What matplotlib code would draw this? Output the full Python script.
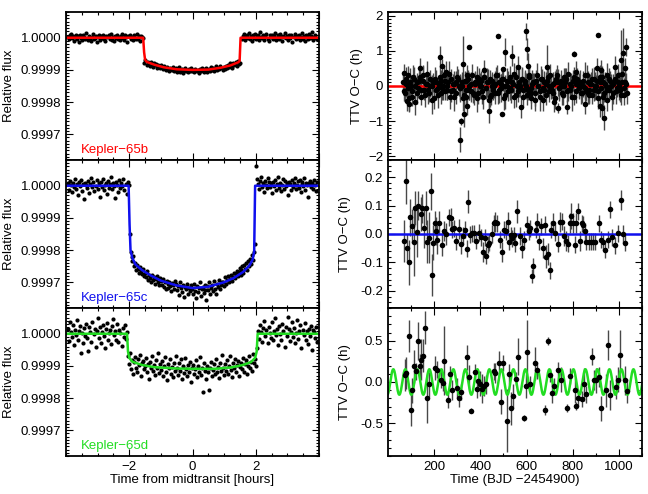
import numpy as np
import matplotlib
matplotlib.use("Agg")
import matplotlib.pyplot as plt
from matplotlib.ticker import MultipleLocator, FixedLocator

plt.rcParams['font.family'] = ['Liberation Sans', 'DejaVu Sans']
plt.rcParams['font.size'] = 9.5
plt.rcParams['axes.unicode_minus'] = True

# ---------------- light curves (flux in ppm below 1) ----------------
# Kepler-65b
b_pre = [3,-5,8,12,-2,6,-9,1,10,-4,4,-12,7,0,-6,9,2,-3,14,-8,5,-1,-10,3,11,-5,0,6,-14,2,8,-7,4,-2,10,-4,
         -9,5,1,7,-3,12,-6,2,-11,6,0,9,-5,3,-8,4,11,-2,-6,7,1,-13,5,9,-4,2,-7,8,0,-3,13,-5,4,-9,6,1,-2]
b_in = [-78,-70,-85,-74,-80,-88,-76,-83,-90,-79,-86,-81,-93,-84,-89,-95,
        -86,-92,-98,-88,-94,-101,-90,-96,-104,-93,-99,-91,-103,-97,-95,-106,
        -98,-92,-105,-100,-96,-109,-101,-94,-103,-99,-107,-97,-102,-95,-104,
        -100,-108,-96,-103,-99,-111,-97,-104,-94,-101,-106,-98,-93,-105,-100,
        -96,-102,-91,-99,-94,-104,-97,-89,-100,-93,-98,-87,-95,-101,-90,-96,
        -88,-94,-84,-91,-80,-87,-93,-78,-85,-82,-75,-89,-72,-81,-77]
b_post = [-4,6,11,-7,2,9,-1,15,-3,5,-10,8,0,13,-5,3,7,-8,18,1,-2,10,-6,4,12,-4,-11,7,2,9,-3,5,16,-7,0,8,
          -5,11,3,-9,6,1,14,-2,4,-8,10,-1,7,-13,3,12,-4,6,0,9,-6,2,15,-3,5,-10,8,1,-5,11,-2,4,17,-7,3,9,0,-4]
b_model_t = [-4.0, -1.56, -1.53, -1.50, -1.45, -1.2, -0.9, -0.5, 0.0, 0.5, 0.9, 1.2, 1.45, 1.49, 1.52, 4.0]
b_model_f = [0, 0, -45, -68, -75, -84, -92, -98, -100, -99, -93, -86, -76, -72, 0, 0]

# Kepler-65c
c_pre = [8,-12,15,3,-20,10,-5,22,-9,4,-30,12,-2,18,-15,6,-42,9,1,-8,14,-22,5,25,-4,11,-17,0,19,-10,
         7,-35,13,-3,21,-13,2,9,-25,16,-6,4,28,-11,8,-1,-38,12,3,-18,17,-7,10,-2,20,-14,5,-27,11,1]
c_in = [-150,-205,-222,-235,-218,-250,-240,-262,-245,-258,-270,-252,-266,-275,-260,-281,
        -270,-285,-265,-292,-278,-288,-300,-276,-294,-283,-305,-290,-280,-298,-310,-287,
        -296,-308,-290,-315,-300,-322,-295,-305,-318,-299,-312,-328,-302,-310,-320,-297,
        -306,-325,-312,-340,-300,-318,-330,-309,-345,-315,-322,-305,-335,-317,-326,-310,
        -320,-338,-305,-328,-350,-312,-330,-318,-300,-342,-322,-315,-334,-310,-325,-355,
        -312,-325,-300,-335,-318,-308,-328,-296,-320,-338,-305,-315,-292,-322,-310,-300,
        -298,-312,-285,-305,-292,-280,-300,-290,-276,-295,-284,-270,-288,-275,-265,-282,
        -268,-255,-276,-262,-250,-270,-245,-258,-240,-262,-235,-250,-228,-242,-215,-232,-205,-180]
c_post = [60,20,5,-10,14,28,-4,9,-18,16,2,-8,24,11,-3,7,-22,13,0,18,-12,6,26,-6,10,-15,3,21,-9,15,-1,
          8,-30,12,4,-14,19,-5,9,23,-11,2,14,-7,17,-20,6,11,-2,25,-13,8,1,-36,10,16,-4,7,-9,19,3,-16,12]
c_model_t = [-4.0, -2.02, -1.99, -1.96, -1.90, -1.80, -1.60, -1.30, -1.0, -0.5, 0.0, 0.5, 1.0, 1.3,
             1.6, 1.8, 1.9, 1.95, 1.98, 4.0]
c_model_f = [0, 0, -120, -200, -225, -245, -262, -280, -295, -310, -318, -314, -300, -287,
             -268, -248, -230, -205, 0, 0]

# Kepler-65d
d_pre = [15,-22,35,5,-10,28,-35,12,-3,42,-18,8,25,-60,3,-28,18,-7,30,-14,-55,22,6,-25,38,-2,14,-40,10,
         48,-12,20,-30,4,26,-8,-45,16,33,-20,2,11,-33,24,45,-5,7,-18,30,-26,13,1,-38,19,-9,28,-15,6]
d_in = [-70,-95,-60,-110,-82,-125,-88,-72,-105,-118,-80,-98,-65,-130,-92,-85,-110,
        -100,-75,-120,-95,-140,-88,-105,-70,-115,-98,-128,-82,-108,-60,-122,-95,
        -112,-85,-130,-100,-72,-118,-145,-95,-108,-80,-125,-102,-135,-90,-115,-68,
        -105,-128,-92,-115,-80,-140,-100,-122,-75,-110,-132,-96,-118,-88,-150,-106,
        -98,-125,-110,-82,-135,-100,-118,-72,-128,-108,-182,-92,-115,-140,-100,-120,
        -175,-105,-88,-130,-112,-95,-125,-78,-118,-102,-138,-90,-115,-65,-108,-128,
        -95,-115,-82,-125,-100,-70,-112,-135,-92,-108,-78,-120,-98,-85,-130,-102,
        -90,-110,-75,-118,-95,-82,-125,-100,-70,-105,-88,-115,-62,-92,-80,-100,-45]
d_post = [10,-15,28,5,-25,18,40,-8,12,-30,22,3,-12,35,-20,8,48,-5,15,-35,25,0,-18,30,10,-42,20,-6,52,
          14,-22,6,38,-10,18,-28,2,44,-15,9,26,-45,12,-3,32,-20,7,-32,16,-8,24,-52,11,4,-14,20,-25]
d_model_t = [-4.0, -2.07, -2.04, -2.0, -1.9, -1.6, -1.2, -0.5, 0.0, 0.7, 1.2, 1.6, 1.85, 1.98, 2.03, 2.06, 4.0]
d_model_f = [0, 0, -55, -75, -87, -97, -104, -108, -109, -109, -105, -97, -88, -75, -55, 0, 0]

# ---------------- TTVs ----------------
# Kepler-65b, bulk of the points (evenly spaced epochs, two interleaved sets)
ttv_b = [0.1,-0.2,0.05,0.3,-0.35,0.0,-0.15,0.2,-0.45,0.1,-0.05,0.25,-0.3,0.15,-0.1,0.05,0.35,-0.2,0.0,-0.4,
         0.1,0.2,-0.1,-0.25,0.05,0.15,-0.05,0.3,-0.15,0.0,0.1,-0.3,0.2,-0.1,0.05,-0.2,0.25,0.0,-0.05,0.1,
         -0.35,0.15,-0.1,0.2,0.0,-0.15,0.3,-0.25,0.05,0.1,-0.2,0.0,0.15,-0.3,0.25,-0.05,0.1,-0.4,0.2,0.0,
         -0.1,0.05,0.3,-0.2,0.1,-0.05,0.2,-0.35,0.0,0.15,-0.15,0.25,-0.1,0.05,0.35,-0.25,0.0,0.1,-0.05,0.2,
         -0.3,0.15,0.0,-0.1,0.25,-0.2,0.05,0.1,-0.4,0.3,0.0,-0.15,0.2,-0.05,0.1,-0.25,0.15,0.0,0.3,-0.1,
         0.05,-0.35,0.2,0.1,-0.05,0.0,-0.2,0.25,0.1,-0.15,0.35,-0.1,0.0,0.15,-0.3,0.05,0.2,-0.05,0.1,-0.2,
         0.0,0.3,-0.15,0.1,-0.25,0.05,0.2,-0.1,0.0,0.15,-0.35,0.25,-0.05,0.1,-0.2,0.0,0.3,-0.1,0.15,-0.3,
         0.05,0.2,-0.15,0.1,0.0,-0.25,0.35,-0.05,0.1,-0.2]
ttv_b_err = [0.3,0.25,0.35,0.28,0.4,0.3,0.22,0.33,0.38,0.27,0.3,0.35,0.25,0.42,0.3,0.28,0.36,0.24,0.31,0.4,
             0.27,0.33,0.3,0.38,0.25,0.29,0.35,0.3,0.26,0.41,0.3,0.34,0.28,0.25,0.37,0.3,0.32,0.27,0.39,0.3,
             0.35,0.28,0.31,0.26,0.4,0.3,0.33,0.29,0.36,0.25,0.3,0.38,0.27,0.34,0.3,0.28,0.42,0.31,0.26,0.35,
             0.3,0.37,0.25,0.32,0.29,0.4,0.27,0.33,0.3,0.36,0.28,0.31,0.38,0.26,0.3,0.35,0.29,0.41,0.27,0.32,
             0.3,0.25,0.36,0.3,0.34,0.28,0.39,0.27,0.31,0.35,0.3,0.26,0.37,0.29,0.33,0.3,0.4,0.28,0.32,0.25,
             0.35,0.3,0.27,0.38,0.31,0.29,0.34,0.26,0.4,0.3,0.33,0.28,0.36,0.3,0.25,0.37,0.31,0.29,0.35,0.27,
             0.3,0.39,0.28,0.33,0.26,0.36,0.3,0.32,0.41,0.27,0.3,0.35,0.29,0.38,0.25,0.31,0.34,0.3,0.28,0.37,
             0.3,0.26,0.35,0.32,0.4,0.29,0.33,0.27,0.36,0.3]
ttv_b_b = [-0.15,0.2,-0.05,0.1,-0.3,0.25,0.0,-0.2,0.15,-0.1,0.3,-0.25,0.05,-0.1,0.2,0.0,-0.35,0.1,-0.05,0.25,
           -0.2,0.0,0.15,-0.1,0.35,-0.15,0.05,-0.3,0.1,0.2,-0.05,0.0,-0.25,0.15,0.3,-0.1,0.05,-0.2,0.1,-0.35,
           0.2,0.0,-0.15,0.25,-0.05,0.1,-0.3,0.15,0.0,-0.2,0.3,-0.1,0.05,0.2,-0.25,0.0,0.15,-0.05,0.1,-0.3,
           0.25,-0.15,0.0,0.2,-0.1,0.05,-0.25,0.3,-0.05,0.1,-0.2,0.15,0.0,-0.3,0.2,-0.1,0.05,0.25,-0.15,0.0,
           -0.2,0.1,0.3,-0.05,0.15,-0.25,0.0,0.2,-0.1,0.05,-0.3,0.25,-0.15,0.1,0.0,-0.2,0.15,-0.05,0.3,-0.1,
           0.05,-0.25,0.2,0.0,-0.15,0.1,0.25,-0.3,0.05,-0.1,0.2,0.0,-0.2,0.15,-0.05,0.3,-0.1,0.1,-0.25,0.05]
ttv_b_b_err = [0.28,0.33,0.3,0.4,0.26,0.35,0.3,0.31,0.38,0.27,0.3,0.34,0.29,0.41,0.25,0.32,0.3,0.36,0.28,0.33,
               0.3,0.39,0.26,0.31,0.35,0.3,0.28,0.4,0.32,0.27,0.34,0.3,0.37,0.25,0.31,0.3,0.36,0.28,0.33,0.4,
               0.3,0.27,0.35,0.29,0.32,0.38,0.3,0.26,0.34,0.31,0.3,0.37,0.28,0.33,0.41,0.3,0.27,0.35,0.29,0.32,
               0.36,0.3,0.25,0.34,0.31,0.39,0.28,0.3,0.33,0.27,0.36,0.3,0.32,0.4,0.29,0.31,0.35,0.28,0.3,0.37,
               0.26,0.33,0.3,0.38,0.31,0.28,0.35,0.3,0.32,0.27,0.4,0.3,0.34,0.29,0.36,0.31,0.28,0.33,0.3,0.37,
               0.3,0.26,0.35,0.32,0.39,0.29,0.33,0.3,0.36,0.28,0.31,0.34,0.3,0.38,0.27,0.32,0.35,0.3,0.29,0.33]
# Kepler-65b, outlying epochs
ttv_b_t2 = [69,84,91,138,225,233,252,311,318,324,328,336,343,352,386,415,437,447,478,495,499,508,539,
            561,578,597,604,606,619,670,689,721,735,776,804,816,852,867,903,911,918,922,925,937,948,983,
            1009,1019,1026,1031]
ttv_b_v2 = [0.38,-0.42,-0.5,0.5,0.83,0.57,0.4,-1.52,-1.0,0.62,-0.8,-0.3,-0.58,1.12,0.26,0.45,-0.7,-0.25,
            1.42,-0.8,0.48,0.96,0.86,0.54,-0.6,1.55,1.05,0.58,-0.35,-0.4,0.55,-0.45,-0.63,-0.6,0.92,0.4,
            -0.5,-0.2,0.5,1.45,-0.58,0.45,-0.63,-0.9,-0.4,0.55,0.75,0.95,0.5,1.1]
ttv_b_e2 = [0.25,0.3,0.2,0.3,0.3,0.2,0.3,0.35,0.1,0.8,0.35,0.3,0.25,0.05,0.3,0.3,0.35,0.3,0.06,0.06,
            0.06,0.4,0.3,0.3,0.3,0.25,0.3,0.35,0.3,0.3,0.6,0.3,0.15,0.2,0.08,0.3,0.3,0.3,0.3,0.06,
            0.3,0.3,0.3,0.35,0.3,0.3,0.85,0.7,0.3,0.25]

# Kepler-65c
ttv_c_t = [69,77,83,90,97,105,112,119,126,132,141,148,155,164,170,178,185,189,197,204,208,214,223,233,
           243,252,265,272,279,287,296,307,316,323,333,342,347,356,363,372,382,392,402,411,418,423,432,
           439,450,458,465,472,484,492,501,511,518,526,532,538,545,552,559,570,581,588,600,609,617,623,
           630,639,646,653,663,672,678,686,692,700,706,713,725,735,743,752,761,771,778,787,793,800,809,
           816,823,830,838,845,854,859,870,880,888,898,914,923,932,940,952,961,972,985,995,1007,1017,1026]
ttv_c = [-0.025,0.187,-0.05,-0.10,0.058,0.028,-0.027,0.09,0.008,0.1,0.07,0.09,0.02,0.09,-0.027,-0.013,
         0.15,-0.144,-0.03,0.04,0.01,-0.02,0.04,-0.037,0.01,0.0,0.058,0.055,0.016,0.02,-0.025,0.017,
         -0.035,-0.006,0.015,-0.052,0.113,-0.002,0.003,0.003,-0.023,0.005,-0.012,-0.062,-0.013,-0.077,
         -0.038,-0.03,0.0,0.038,0.043,0.038,-0.02,-0.062,0.015,0.01,0.043,-0.027,-0.004,-0.015,-0.004,
         -0.033,0.08,-0.007,-0.048,-0.02,0.033,0.01,0.02,-0.148,-0.113,0.015,0.038,-0.025,0.027,-0.05,
         0.033,-0.08,-0.07,-0.127,0.015,0.038,0.005,-0.035,0.043,0.043,-0.006,-0.023,-0.035,0.038,0.063,
         0.038,-0.037,0.038,0.08,-0.023,0.038,0.033,0.01,-0.027,-0.027,-0.027,-0.027,-0.027,0.038,-0.02,
         -0.027,-0.055,-0.02,0.087,-0.012,-0.04,0.003,0.12,0.0,-0.03]
ttv_c_err = [0.075,0.08,0.05,0.08,0.065,0.06,0.12,0.06,0.09,0.05,0.06,0.05,0.07,0.06,0.075,0.09,
             0.065,0.075,0.06,0.04,0.05,0.05,0.04,0.04,0.035,0.04,0.03,0.035,0.03,0.03,0.03,0.035,
             0.035,0.03,0.03,0.03,0.04,0.03,0.03,0.03,0.03,0.03,0.03,0.035,0.03,0.03,0.03,0.03,
             0.03,0.03,0.035,0.03,0.03,0.035,0.03,0.03,0.035,0.03,0.03,0.03,0.03,0.03,0.04,0.03,
             0.035,0.03,0.03,0.03,0.03,0.025,0.03,0.03,0.035,0.03,0.03,0.035,0.03,0.04,0.04,0.03,
             0.03,0.035,0.03,0.03,0.035,0.03,0.035,0.035,0.03,0.035,0.045,0.035,0.03,0.035,0.03,
             0.035,0.03,0.03,0.03,0.03,0.03,0.03,0.03,0.03,0.03,0.03,0.03,0.03,0.03,0.03,0.03,0.03,
             0.03,0.035,0.03,0.03]

# Kepler-65d
ttv_d_t = [72,80,89,98,105,114,121,129,138,145,153,162,171,178,203,212,229,237,244,260,268,276,299,
           308,315,342,349,358,375,384,391,398,408,416,423,457,464,481,489,497,515,524,531,540,556,563,
           588,597,604,613,638,645,678,694,701,710,719,736,751,777,790,809,816,824,838,849,857,882,891,
           899,914,923,946,953,962,988,995,1003,1027,1036]
ttv_d = [0.085,0.11,0.56,-0.34,-0.1,0.19,0.13,0.5,0.19,0.27,0.32,0.66,-0.2,-0.03,0.17,0.15,0.03,-0.01,
         0.26,-0.22,0.1,-0.1,-0.07,-0.2,-0.12,0.3,0.06,-0.35,0.12,-0.08,0.01,-0.02,-0.08,-0.05,-0.03,
         0.13,0.11,0.23,-0.24,0.23,-0.47,0.1,-0.32,-0.17,0.04,0.31,-0.44,-0.05,0.36,-0.03,0.23,0.14,
         -0.34,0.5,0.08,-0.13,-0.05,0.14,0.03,-0.32,0.07,-0.1,-0.29,-0.19,-0.21,-0.03,-0.15,0.31,0.02,
         0.02,0.06,-0.32,-0.1,0.45,-0.16,-0.06,0.03,0.33,0.02,-0.11]
ttv_d_err = [0.2,0.2,0.2,0.2,0.15,0.2,0.1,0.23,0.15,0.25,0.2,0.2,0.3,0.15,0.15,0.1,0.1,0.1,0.42,0.1,
             0.1,0.12,0.12,0.1,0.1,0.15,0.15,0.03,0.1,0.12,0.12,0.15,0.18,0.12,0.12,0.1,0.12,0.15,
             0.15,0.1,0.38,0.12,0.2,0.15,0.08,0.22,0.04,0.15,0.39,0.1,0.2,0.1,0.06,0.05,0.08,0.12,
             0.1,0.1,0.15,0.05,0.1,0.15,0.05,0.1,0.1,0.2,0.1,0.1,0.12,0.15,0.12,0.15,0.2,0.18,0.18,
             0.15,0.15,0.3,0.18,0.15]
# sinusoidal fit to the Kepler-65d TTVs
d_sin_amp = 0.155
d_sin_period = 52.0
d_sin_t0 = 10.0

# ---------------- figure ----------------
fig = plt.figure(figsize=(6.48, 4.94), dpi=100)
W, H = 648.0, 494.0
rows = [(12, 160), (160, 308), (308, 456)]


def make_ax(x0, x1, row):
    y0, y1 = row
    return fig.add_axes([x0 / W, (H - y1) / H, (x1 - x0) / W, (y1 - y0) / H])


def style(ax):
    ax.tick_params(which='both', direction='in', top=True, right=True, width=0.8, labelsize=9.5)
    ax.tick_params(which='major', length=5)
    ax.tick_params(which='minor', length=2.5)
    for s in ax.spines.values():
        s.set_linewidth(1.3)


lc = [(b_pre, b_in, b_post, b_model_t, b_model_f, '#ff0000', 'Kepler\u221265b',
       (-1.56, -1.52), (1.51, 1.55)),
      (c_pre, c_in, c_post, c_model_t, c_model_f, '#1010ee', 'Kepler\u221265c',
       (-2.02, -1.99), (1.98, 2.0)),
      (d_pre, d_in, d_post, d_model_t, d_model_f, '#22dd22', 'Kepler\u221265d',
       (-2.08, -2.05), (2.04, 2.07))]

for k, (pre, intr, post, mt, mf, col, name, ing, egr) in enumerate(lc):
    ax = make_ax(66, 319, rows[k])
    t_pre = np.linspace(-3.95, ing[0], len(pre))
    t_in = np.linspace(ing[1], egr[0], len(intr))
    t_post = np.linspace(egr[1], 3.95, len(post))
    t = np.concatenate([t_pre, t_in, t_post])
    f = 1 + np.array(pre + intr + post) * 1e-6
    ax.plot(t, f, 'o', color='black', ms=3.0, mew=0)
    ax.plot(mt, 1 + np.array(mf) * 1e-6, color=col, lw=1.8)
    ax.set_xlim(-4, 4)
    ax.set_ylim(0.99962, 1.00008)
    ax.xaxis.set_major_locator(MultipleLocator(2))
    ax.xaxis.set_minor_locator(MultipleLocator(0.5))
    ax.yaxis.set_major_locator(MultipleLocator(0.0001))
    ax.yaxis.set_minor_locator(MultipleLocator(0.00001))
    ax.yaxis.set_major_formatter(plt.FormatStrFormatter('%.4f'))
    ax.set_ylabel('Relative flux')
    ax.yaxis.set_label_coords(-0.2, 0.5)
    ax.text(0.06, 0.05, name, color=col, transform=ax.transAxes, fontsize=9.5)
    style(ax)
    if k < 2:
        ax.set_xticklabels([])
    else:
        ax.set_xticks([-2, 0, 2])
        ax.set_xticklabels(['\u22122', '0', '2'])
        ax.set_xlabel('Time from midtransit [hours]', labelpad=1)

ebar = dict(fmt='o', color='black', ms=4.0, mew=0, ecolor='#484848', elinewidth=1.0,
            capsize=3.0, capthick=1.0)

# Kepler-65b TTV
ax = make_ax(388, 642, rows[0])
ax.errorbar(np.linspace(66, 1035, len(ttv_b)), ttv_b, yerr=ttv_b_err, **ebar)
ax.errorbar(np.linspace(70, 1030, len(ttv_b_b)), ttv_b_b, yerr=ttv_b_b_err, **ebar)
ax.errorbar(ttv_b_t2, ttv_b_v2, yerr=ttv_b_e2, **ebar)
ax.axhline(0, color='#ff0000', lw=1.8)
ax.set_ylim(-2.1, 2.1)
ax.yaxis.set_major_locator(MultipleLocator(1))
ax.yaxis.set_minor_locator(MultipleLocator(0.1))

# Kepler-65c TTV
ax2 = make_ax(388, 642, rows[1])
ax2.errorbar(ttv_c_t, ttv_c, yerr=ttv_c_err, **ebar)
ax2.axhline(0, color='#1010ee', lw=1.8)
ax2.set_ylim(-0.26, 0.26)
ax2.yaxis.set_major_locator(MultipleLocator(0.1))
ax2.yaxis.set_minor_locator(MultipleLocator(0.02))
ax2.yaxis.set_major_formatter(plt.FormatStrFormatter('%.1f'))

# Kepler-65d TTV
ax3 = make_ax(388, 642, rows[2])
ax3.errorbar(ttv_d_t, ttv_d, yerr=ttv_d_err, **ebar)
ts = np.linspace(0, 1100, 3000)
ax3.plot(ts, d_sin_amp * np.sin(2 * np.pi * (ts - d_sin_t0) / d_sin_period), color='#22dd22', lw=1.8)
ax3.set_ylim(-0.9, 0.9)
ax3.yaxis.set_major_locator(MultipleLocator(0.5))
ax3.yaxis.set_minor_locator(MultipleLocator(0.1))
ax3.yaxis.set_major_formatter(plt.FormatStrFormatter('%.1f'))
ax3.set_xlabel('Time (BJD \u22122454900)', labelpad=1)

for i, a in enumerate([ax, ax2, ax3]):
    a.set_xlim(0, 1100)
    a.xaxis.set_major_locator(FixedLocator([200, 400, 600, 800, 1000]))
    a.xaxis.set_minor_locator(FixedLocator([100, 300, 500, 700, 900, 1100]))
    a.set_ylabel('TTV O\u2212C (h)')
    style(a)
    if i < 2:
        a.set_xticklabels([])
ax.yaxis.set_label_coords(-0.10, 0.5)
ax2.yaxis.set_label_coords(-0.145, 0.5)
ax3.yaxis.set_label_coords(-0.145, 0.5)

fig.savefig('out.png', dpi=100)
